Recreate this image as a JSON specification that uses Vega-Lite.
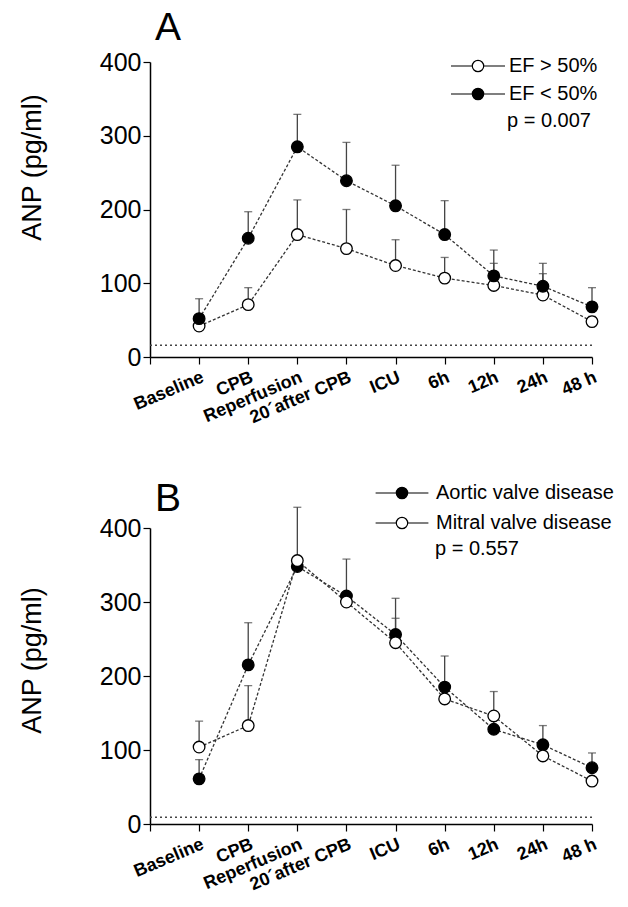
{
  "$schema": "https://vega.github.io/schema/vega-lite/v6.json",
  "background": "white",
  "padding": {"left": 18, "top": 9, "right": 5, "bottom": 5},
  "spacing": 53,
  "resolve": {"scale": {"fill": "independent"}, "legend": {"fill": "independent"}},
  "config": {
    "view": {"stroke": null},
    "font": "Liberation Sans",
    "title": {"fontSize": 39, "fontWeight": "normal", "color": "black", "anchor": "start", "frame": "group"},
    "axis": {"grid": false, "domainColor": "black", "domainWidth": 1.5, "tickColor": "black", "tickWidth": 1.2, "tickSize": 7, "labelColor": "black", "titleColor": "black"},
    "axisX": {"labelAngle": -23, "labelAlign": "right", "labelBaseline": "top", "labelFontSize": 18, "labelFontWeight": "bold", "labelPadding": 4, "labelOverlap": false, "labelLimit": 300},
    "axisY": {"labelFontSize": 25, "labelPadding": 2, "titleFontSize": 27, "titleFontWeight": "normal", "titlePadding": 53},
    "legend": {"labelColor": "black", "titleColor": "black", "titleFontWeight": "normal", "labelLimit": 400}
  },
  "datasets": {
    "A": [
      {"group": "EF > 50%", "time": "Baseline", "mean": 42, "upper": 50},
      {"group": "EF > 50%", "time": "CPB", "mean": 71, "upper": 94},
      {"group": "EF > 50%", "time": "Reperfusion", "mean": 166, "upper": 213},
      {"group": "EF > 50%", "time": "20´after CPB", "mean": 147, "upper": 200},
      {"group": "EF > 50%", "time": "ICU", "mean": 124, "upper": 159},
      {"group": "EF > 50%", "time": "6h", "mean": 107, "upper": 135},
      {"group": "EF > 50%", "time": "12h", "mean": 97, "upper": 127},
      {"group": "EF > 50%", "time": "24h", "mean": 84, "upper": 113},
      {"group": "EF > 50%", "time": "48 h", "mean": 48, "upper": 55},
      {"group": "EF < 50%", "time": "Baseline", "mean": 52, "upper": 79},
      {"group": "EF < 50%", "time": "CPB", "mean": 161, "upper": 197},
      {"group": "EF < 50%", "time": "Reperfusion", "mean": 285, "upper": 329},
      {"group": "EF < 50%", "time": "20´after CPB", "mean": 239, "upper": 291},
      {"group": "EF < 50%", "time": "ICU", "mean": 205, "upper": 260},
      {"group": "EF < 50%", "time": "6h", "mean": 166, "upper": 212},
      {"group": "EF < 50%", "time": "12h", "mean": 110, "upper": 145},
      {"group": "EF < 50%", "time": "24h", "mean": 96, "upper": 127},
      {"group": "EF < 50%", "time": "48 h", "mean": 68, "upper": 94}
    ],
    "B": [
      {"group": "Aortic valve disease", "time": "Baseline", "mean": 61, "upper": 87},
      {"group": "Aortic valve disease", "time": "CPB", "mean": 215, "upper": 272},
      {"group": "Aortic valve disease", "time": "Reperfusion", "mean": 348, "upper": 360},
      {"group": "Aortic valve disease", "time": "20´after CPB", "mean": 308, "upper": 358},
      {"group": "Aortic valve disease", "time": "ICU", "mean": 256, "upper": 305},
      {"group": "Aortic valve disease", "time": "6h", "mean": 185, "upper": 227},
      {"group": "Aortic valve disease", "time": "12h", "mean": 128, "upper": 140},
      {"group": "Aortic valve disease", "time": "24h", "mean": 107, "upper": 133},
      {"group": "Aortic valve disease", "time": "48 h", "mean": 76, "upper": 96},
      {"group": "Mitral valve disease", "time": "Baseline", "mean": 104, "upper": 139},
      {"group": "Mitral valve disease", "time": "CPB", "mean": 133, "upper": 187},
      {"group": "Mitral valve disease", "time": "Reperfusion", "mean": 356, "upper": 428},
      {"group": "Mitral valve disease", "time": "20´after CPB", "mean": 300, "upper": 305},
      {"group": "Mitral valve disease", "time": "ICU", "mean": 245, "upper": 278},
      {"group": "Mitral valve disease", "time": "6h", "mean": 169, "upper": 175},
      {"group": "Mitral valve disease", "time": "12h", "mean": 146, "upper": 179},
      {"group": "Mitral valve disease", "time": "24h", "mean": 92, "upper": 96},
      {"group": "Mitral valve disease", "time": "48 h", "mean": 58, "upper": 61}
    ]
  },
  "vconcat": [
    {
      "width": 442,
      "height": 295,
      "title": {"text": "A", "dx": 5, "offset": 2},
      "data": {"name": "A"},
      "layer": [
        {
          "data": {"values": [{"ref": 16}]},
          "mark": {"type": "rule", "strokeDash": [2, 3], "color": "#444", "strokeWidth": 1.5},
          "encoding": {"y": {"field": "ref", "type": "quantitative", "title": "ANP (pg/ml)"}}
        },
        {
          "mark": {"type": "rule", "color": "#444", "strokeWidth": 1.3},
          "encoding": {
            "x": {"field": "time", "type": "nominal", "sort": null, "title": null},
            "y": {"field": "mean", "type": "quantitative", "title": "ANP (pg/ml)"},
            "y2": {"field": "upper"}
          }
        },
        {
          "mark": {"type": "tick", "color": "#444", "size": 8, "thickness": 1.3},
          "encoding": {
            "x": {"field": "time", "type": "nominal", "sort": null, "title": null},
            "y": {"field": "upper", "type": "quantitative", "title": "ANP (pg/ml)"}
          }
        },
        {
          "mark": {"type": "line", "color": "#333", "strokeWidth": 1.3, "strokeDash": [3, 2]},
          "encoding": {
            "x": {"field": "time", "type": "nominal", "sort": null, "title": null},
            "y": {"field": "mean", "type": "quantitative", "title": "ANP (pg/ml)"},
            "detail": {"field": "group"}
          }
        },
        {
          "mark": {"type": "point", "shape": "circle", "size": 135, "stroke": "black", "strokeWidth": 1.3, "opacity": 1, "fillOpacity": 1},
          "encoding": {
            "x": {
              "field": "time", "type": "nominal", "sort": null, "title": null,
              "scale": {"type": "point", "padding": 0, "domain": [" ", "Baseline", "CPB", "Reperfusion", "20´after CPB", "ICU", "6h", "12h", "24h", "48 h"]}
            },
            "y": {
              "field": "mean", "type": "quantitative", "title": "ANP (pg/ml)",
              "scale": {"domain": [0, 400], "nice": false},
              "axis": {"values": [0, 50, 100, 150, 200, 250, 300, 350, 400], "labelExpr": "datum.value % 100 === 0 ? datum.label : ''", "titleY": 105}
            },
            "fill": {
              "field": "group", "type": "nominal",
              "scale": {"domain": ["EF > 50%", "EF < 50%"], "range": ["white", "black"]},
              "legend": {
                "orient": "none", "legendX": 357, "legendY": -6,
                "title": "p = 0.007", "titleOrient": "bottom", "titleAnchor": "start", "titleFontSize": 20, "titlePadding": 7,
                "symbolType": "M-4.5,0L-0.95,0M0.95,0L4.5,0M0.95,0A0.95,0.95,0,1,1,-0.95,0A0.95,0.95,0,1,1,0.95,0Z",
                "symbolSize": 144, "symbolStrokeColor": "black", "symbolStrokeWidth": 1.2, "symbolOffset": -39,
                "labelFontSize": 20, "labelOffset": 21, "rowPadding": 8
              }
            }
          }
        }
      ]
    },
    {
      "width": 442,
      "height": 296,
      "title": {"text": "B", "dx": 5, "offset": -36},
      "data": {"name": "B"},
      "layer": [
        {
          "data": {"values": [{"ref": 9}]},
          "mark": {"type": "rule", "strokeDash": [2, 3], "color": "#444", "strokeWidth": 1.5},
          "encoding": {"y": {"field": "ref", "type": "quantitative", "title": "ANP (pg/ml)"}}
        },
        {
          "mark": {"type": "rule", "color": "#444", "strokeWidth": 1.3},
          "encoding": {
            "x": {"field": "time", "type": "nominal", "sort": null, "title": null},
            "y": {"field": "mean", "type": "quantitative", "title": "ANP (pg/ml)"},
            "y2": {"field": "upper"}
          }
        },
        {
          "mark": {"type": "tick", "color": "#444", "size": 8, "thickness": 1.3},
          "encoding": {
            "x": {"field": "time", "type": "nominal", "sort": null, "title": null},
            "y": {"field": "upper", "type": "quantitative", "title": "ANP (pg/ml)"}
          }
        },
        {
          "mark": {"type": "line", "color": "#333", "strokeWidth": 1.3, "strokeDash": [3, 2]},
          "encoding": {
            "x": {"field": "time", "type": "nominal", "sort": null, "title": null},
            "y": {"field": "mean", "type": "quantitative", "title": "ANP (pg/ml)"},
            "detail": {"field": "group"}
          }
        },
        {
          "mark": {"type": "point", "shape": "circle", "size": 135, "stroke": "black", "strokeWidth": 1.3, "opacity": 1, "fillOpacity": 1},
          "encoding": {
            "x": {
              "field": "time", "type": "nominal", "sort": null, "title": null,
              "scale": {"type": "point", "padding": 0, "domain": [" ", "Baseline", "CPB", "Reperfusion", "20´after CPB", "ICU", "6h", "12h", "24h", "48 h"]}
            },
            "y": {
              "field": "mean", "type": "quantitative", "title": "ANP (pg/ml)",
              "scale": {"domain": [0, 400], "nice": false},
              "axis": {"values": [0, 50, 100, 150, 200, 250, 300, 350, 400], "labelExpr": "datum.value % 100 === 0 ? datum.label : ''", "titleY": 132}
            },
            "fill": {
              "field": "group", "type": "nominal",
              "scale": {"domain": ["Aortic valve disease", "Mitral valve disease"], "range": ["black", "white"]},
              "legend": {
                "orient": "none", "legendX": 285, "legendY": -45,
                "title": "p = 0.557", "titleOrient": "bottom", "titleAnchor": "start", "titleFontSize": 20, "titlePadding": 6,
                "symbolType": "M-4.4,0L-0.95,0M0.95,0L4.4,0M0.95,0A0.95,0.95,0,1,1,-0.95,0A0.95,0.95,0,1,1,0.95,0Z",
                "symbolSize": 144, "symbolStrokeColor": "black", "symbolStrokeWidth": 1.2, "symbolOffset": -43,
                "labelFontSize": 20, "labelOffset": 24, "rowPadding": 10
              }
            }
          }
        }
      ]
    }
  ]
}
